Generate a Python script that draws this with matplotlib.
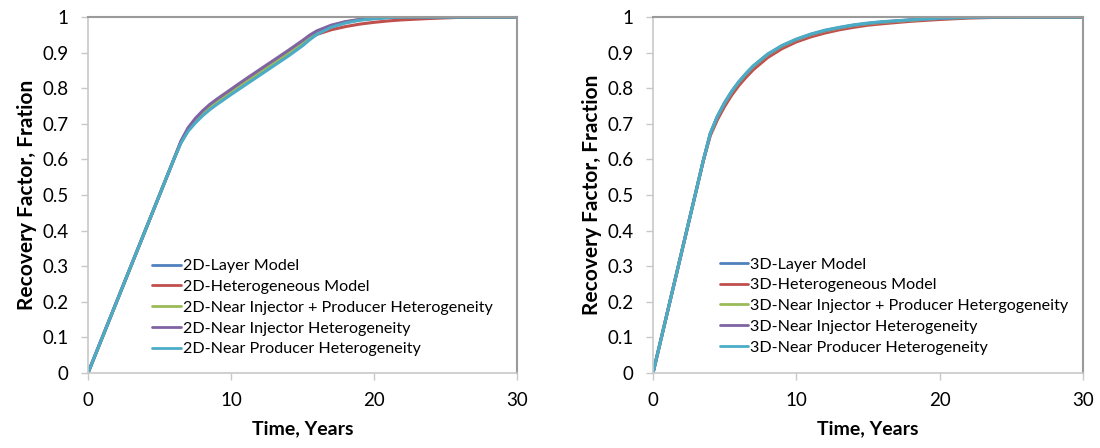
import matplotlib
matplotlib.use("Agg")
import matplotlib.pyplot as plt

plt.rcParams['font.family'] = ['Lato', 'DejaVu Sans']

# ---- data: 2D models ----
t2 = [0, 1, 2, 3, 4, 5, 6, 6.5, 7, 7.5, 8, 8.5, 9, 10, 11, 12, 13, 14, 15, 15.5, 16, 17, 18, 19, 20, 21, 22, 24, 26, 28, 30]
rf2_layer = [0, 0.1, 0.2, 0.3, 0.4, 0.5, 0.6, 0.648, 0.683, 0.707, 0.727, 0.745, 0.76, 0.788, 0.815, 0.842, 0.869, 0.896, 0.925, 0.942, 0.956, 0.974, 0.985, 0.992, 0.996, 0.999, 1, 1, 1, 1, 1]
rf2_het = [0, 0.1, 0.2, 0.3, 0.4, 0.5, 0.6, 0.648, 0.683, 0.707, 0.727, 0.745, 0.76, 0.788, 0.815, 0.842, 0.869, 0.896, 0.925, 0.94, 0.951, 0.964, 0.973, 0.98, 0.985, 0.989, 0.992, 0.996, 0.999, 1, 1]
rf2_injprod = [0, 0.1, 0.2, 0.3, 0.4, 0.5, 0.6, 0.649, 0.684, 0.709, 0.729, 0.747, 0.762, 0.79, 0.818, 0.845, 0.872, 0.899, 0.928, 0.944, 0.957, 0.975, 0.986, 0.993, 0.997, 0.999, 1, 1, 1, 1, 1]
rf2_inj = [0, 0.1, 0.2, 0.3, 0.4, 0.5, 0.6, 0.652, 0.689, 0.715, 0.736, 0.754, 0.769, 0.797, 0.825, 0.852, 0.879, 0.906, 0.934, 0.949, 0.961, 0.977, 0.987, 0.993, 0.997, 0.999, 1, 1, 1, 1, 1]
rf2_prod = [0, 0.1, 0.2, 0.3, 0.4, 0.5, 0.6, 0.646, 0.679, 0.702, 0.722, 0.739, 0.754, 0.782, 0.809, 0.836, 0.863, 0.89, 0.919, 0.936, 0.951, 0.971, 0.983, 0.991, 0.995, 0.998, 1, 1, 1, 1, 1]

# ---- data: 3D models ----
t3 = [0, 1, 2, 3, 3.5, 4, 4.5, 5, 5.5, 6, 6.5, 7, 8, 9, 10, 11, 12, 13, 14, 15, 16, 18, 20, 22, 24, 26, 28, 30]
rf3_layer = [0, 0.17, 0.34, 0.51, 0.595, 0.672, 0.72, 0.758, 0.79, 0.817, 0.84, 0.861, 0.894, 0.918, 0.936, 0.95, 0.961, 0.969, 0.976, 0.981, 0.985, 0.991, 0.996, 0.999, 1, 1, 1, 1]
rf3_het = [0, 0.17, 0.34, 0.51, 0.595, 0.667, 0.712, 0.749, 0.781, 0.808, 0.831, 0.852, 0.886, 0.911, 0.93, 0.944, 0.955, 0.964, 0.971, 0.977, 0.981, 0.988, 0.993, 0.997, 0.999, 1, 1, 1]
rf3_injprod = [0, 0.17, 0.34, 0.51, 0.595, 0.672, 0.72, 0.758, 0.79, 0.817, 0.84, 0.861, 0.894, 0.918, 0.936, 0.95, 0.961, 0.969, 0.976, 0.981, 0.985, 0.991, 0.996, 0.999, 1, 1, 1, 1]
rf3_inj = [0, 0.17, 0.34, 0.51, 0.595, 0.673, 0.721, 0.759, 0.791, 0.818, 0.841, 0.862, 0.895, 0.919, 0.937, 0.951, 0.962, 0.97, 0.977, 0.982, 0.986, 0.992, 0.996, 0.999, 1, 1, 1, 1]
rf3_prod = [0, 0.17, 0.34, 0.51, 0.596, 0.674, 0.722, 0.76, 0.792, 0.819, 0.842, 0.863, 0.896, 0.92, 0.938, 0.952, 0.963, 0.971, 0.978, 0.983, 0.987, 0.992, 0.997, 0.999, 1, 1, 1, 1]

labels2 = ["2D-Layer Model", "2D-Heterogeneous Model",
           "2D-Near Injector + Producer Heterogeneity",
           "2D-Near Injector Heterogeneity", "2D-Near Producer Heterogeneity"]
labels3 = ["3D-Layer Model", "3D-Heterogeneous Model",
           "3D-Near Injector + Producer Hetergogeneity",
           "3D-Near Injector Heterogeneity", "3D-Near Producer Heterogeneity"]
colors = ["#4F81BD", "#C0504D", "#9BBB59", "#8064A2", "#4BACC6"]

xticks = [0, 10, 20, 30]
yticks = [0, 0.1, 0.2, 0.3, 0.4, 0.5, 0.6, 0.7, 0.8, 0.9, 1]
ytick_labels = ["0", "0.1", "0.2", "0.3", "0.4", "0.5", "0.6", "0.7", "0.8", "0.9", "1"]

fig = plt.figure(figsize=(11, 4.48), dpi=100)
ax1 = fig.add_axes([88/1100, 1 - 373/448, 429/1100, 356/448])
ax2 = fig.add_axes([653/1100, 1 - 373/448, 430/1100, 356/448])

def style(ax, t, series, labels, legend_anchor):
    for y, lab, c in zip(series, labels, colors):
        ax.plot(t, y, color=c, lw=2.2, label=lab, solid_capstyle='round')
    ax.set_xlim(0, 30)
    ax.set_ylim(0, 1)
    ax.set_xticks(xticks)
    ax.set_yticks(yticks)
    ax.set_yticklabels(ytick_labels)
    ax.tick_params(axis='both', labelsize=13.5, colors='#c8c8c8', labelcolor='black',
                   length=5, width=1, direction='out')
    ax.tick_params(axis='y', pad=9)
    ax.tick_params(axis='x', pad=9)
    for s in ['left', 'bottom']:
        ax.spines[s].set_color('#c8c8c8')
        ax.spines[s].set_linewidth(1.2)
    for s in ['top', 'right']:
        ax.spines[s].set_color('#9a9a9a')
        ax.spines[s].set_linewidth(1.5)
    ax.set_xlabel("Time, Years", fontsize=14, fontweight='bold', labelpad=8)
    leg = ax.legend(loc='upper left', bbox_to_anchor=legend_anchor, frameon=False,
                    fontsize=11.6, handlelength=1.75, handletextpad=0.15,
                    labelspacing=0.4, borderaxespad=0)
    for h in leg.get_lines():
        h.set_linewidth(2)

style(ax1, t2, [rf2_layer, rf2_het, rf2_injprod, rf2_inj, rf2_prod], labels2, (0.135, 0.338))
style(ax2, t3, [rf3_layer, rf3_het, rf3_injprod, rf3_inj, rf3_prod], labels3, (0.14, 0.343))
ax1.set_ylabel("Recovery Factor, Fration", fontsize=15, fontweight='bold', labelpad=4)
ax2.set_ylabel("Recovery Factor, Fraction", fontsize=15, fontweight='bold', labelpad=4)

fig.savefig("out.png", dpi=100)
